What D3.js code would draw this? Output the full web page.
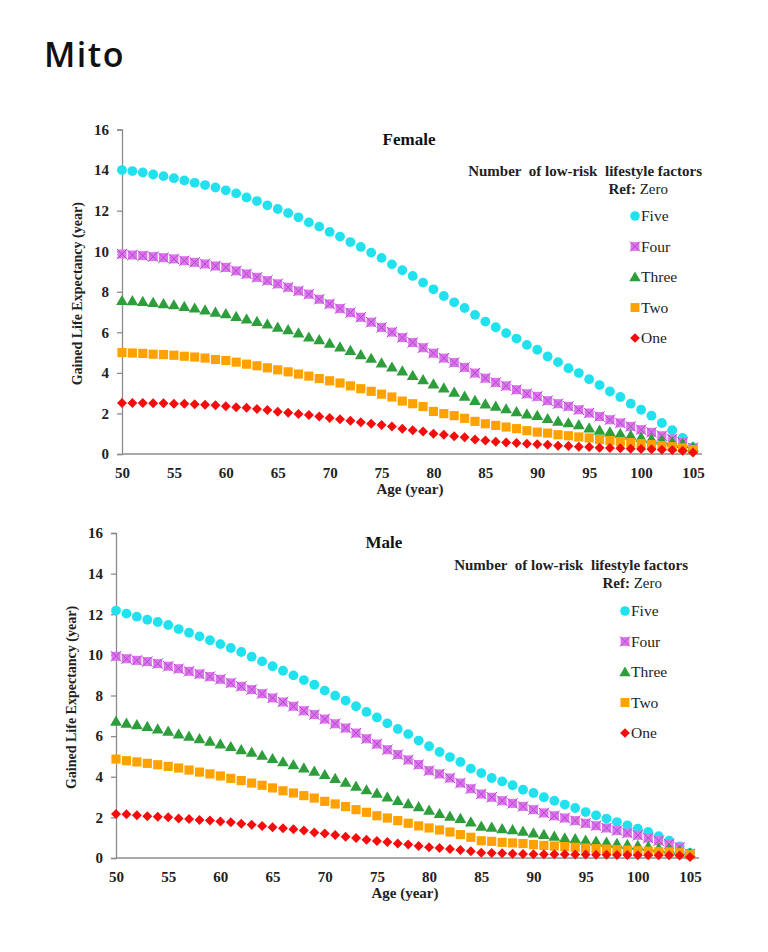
<!DOCTYPE html>
<html><head><meta charset="utf-8">
<script src="https://cdn.jsdelivr.net/npm/d3@7"></script>
<style>
html,body{margin:0;padding:0;background:#fff;}
svg{display:block;}
</style></head>
<body>
<script>
const ages = [50,51,52,53,54,55,56,57,58,59,60,61,62,63,64,65,66,67,68,69,70,71,72,73,74,75,76,77,78,79,80,81,82,83,84,85,86,87,88,89,90,91,92,93,94,95,96,97,98,99,100,101,102,103,104,105];
const xTicks = [50,55,60,65,70,75,80,85,90,95,100,105];
const yTicks = [0,2,4,6,8,10,12,14,16];
const seriesNames = ["Five","Four","Three","Two","One"];

const femaleFive = [14.0,13.95,13.88,13.78,13.7,13.6,13.49,13.37,13.26,13.14,13.0,12.85,12.65,12.47,12.26,12.08,11.88,11.67,11.42,11.21,10.95,10.72,10.45,10.21,9.93,9.67,9.35,9.06,8.78,8.45,8.12,7.79,7.48,7.2,6.86,6.53,6.25,5.96,5.69,5.38,5.14,4.81,4.53,4.23,3.99,3.69,3.4,3.08,2.81,2.48,2.18,1.89,1.53,1.17,0.79,0.34];
const femaleFour = [9.86,9.81,9.78,9.73,9.68,9.62,9.53,9.45,9.37,9.27,9.2,9.03,8.88,8.71,8.55,8.39,8.22,8.04,7.88,7.63,7.4,7.17,6.97,6.74,6.5,6.24,6.01,5.74,5.5,5.24,4.97,4.73,4.51,4.27,3.99,3.74,3.53,3.36,3.17,2.97,2.84,2.63,2.48,2.35,2.18,2.02,1.85,1.69,1.53,1.36,1.2,1.07,0.9,0.74,0.57,0.3];
const femaleThree = [7.56,7.55,7.52,7.47,7.4,7.35,7.27,7.19,7.1,6.99,6.91,6.78,6.65,6.53,6.4,6.25,6.12,5.96,5.76,5.63,5.46,5.27,5.1,4.89,4.71,4.48,4.28,4.09,3.87,3.66,3.45,3.25,3.04,2.84,2.63,2.46,2.35,2.22,2.08,1.97,1.89,1.74,1.61,1.53,1.44,1.28,1.17,1.08,1.0,0.92,0.82,0.75,0.67,0.59,0.51,0.34];
const femaleTwo = [5.0,4.98,4.96,4.92,4.9,4.87,4.82,4.78,4.73,4.66,4.61,4.53,4.43,4.35,4.25,4.15,4.05,3.94,3.84,3.72,3.61,3.5,3.36,3.22,3.09,2.95,2.81,2.61,2.48,2.34,2.1,1.99,1.89,1.76,1.61,1.49,1.41,1.33,1.25,1.15,1.08,1.03,0.95,0.9,0.84,0.79,0.71,0.66,0.61,0.56,0.51,0.46,0.41,0.36,0.3,0.21];
const femaleOne = [2.51,2.51,2.51,2.5,2.5,2.48,2.48,2.45,2.43,2.4,2.35,2.31,2.28,2.22,2.17,2.08,2.03,1.97,1.92,1.85,1.77,1.71,1.64,1.56,1.49,1.43,1.36,1.25,1.17,1.11,1.0,0.95,0.87,0.82,0.71,0.66,0.61,0.57,0.54,0.51,0.48,0.46,0.41,0.39,0.36,0.34,0.31,0.3,0.28,0.26,0.25,0.23,0.21,0.2,0.16,0.08];

const maleFive = [12.18,12.03,11.88,11.73,11.62,11.47,11.27,11.09,10.91,10.72,10.53,10.34,10.14,9.91,9.68,9.44,9.22,8.99,8.76,8.53,8.24,7.99,7.75,7.47,7.19,6.92,6.63,6.35,6.1,5.78,5.5,5.22,4.97,4.73,4.4,4.18,3.94,3.77,3.58,3.36,3.2,2.99,2.82,2.63,2.46,2.26,2.1,1.94,1.77,1.61,1.44,1.28,1.07,0.85,0.57,0.25];
const maleFour = [9.93,9.81,9.73,9.67,9.57,9.44,9.32,9.19,9.06,8.93,8.8,8.62,8.45,8.29,8.09,7.88,7.68,7.47,7.25,7.06,6.84,6.61,6.4,6.15,5.87,5.61,5.33,5.09,4.83,4.6,4.3,4.14,3.94,3.69,3.41,3.15,2.99,2.82,2.69,2.54,2.38,2.22,2.08,1.97,1.84,1.71,1.59,1.48,1.35,1.23,1.12,0.98,0.85,0.69,0.53,0.2];
const maleThree = [6.73,6.63,6.56,6.47,6.35,6.24,6.1,5.99,5.87,5.74,5.61,5.48,5.33,5.2,5.05,4.89,4.73,4.59,4.43,4.27,4.1,3.91,3.72,3.53,3.35,3.18,3.0,2.82,2.67,2.52,2.35,2.18,2.05,1.94,1.77,1.56,1.51,1.44,1.39,1.31,1.23,1.15,1.07,0.98,0.94,0.87,0.82,0.77,0.71,0.66,0.61,0.56,0.49,0.44,0.36,0.25];
const maleTwo = [4.87,4.79,4.73,4.66,4.59,4.51,4.43,4.33,4.23,4.14,4.04,3.92,3.81,3.69,3.58,3.45,3.31,3.2,3.07,2.95,2.79,2.66,2.53,2.38,2.25,2.08,1.97,1.84,1.71,1.58,1.48,1.38,1.28,1.15,1.02,0.85,0.82,0.77,0.74,0.71,0.66,0.62,0.59,0.56,0.53,0.49,0.46,0.44,0.41,0.39,0.36,0.34,0.31,0.3,0.26,0.16];
const maleOne = [2.17,2.15,2.1,2.05,2.03,2.0,1.95,1.92,1.87,1.84,1.8,1.76,1.69,1.64,1.58,1.51,1.46,1.41,1.35,1.26,1.2,1.13,1.05,0.98,0.9,0.84,0.79,0.71,0.66,0.59,0.53,0.49,0.44,0.39,0.33,0.26,0.25,0.23,0.21,0.2,0.19,0.19,0.18,0.18,0.17,0.17,0.16,0.16,0.15,0.15,0.14,0.14,0.13,0.13,0.12,0.05];

const W = 768, H = 952;
const serif = "'Liberation Serif','Times New Roman',serif";
const svg = d3.select("body").append("svg").attr("width", W).attr("height", H);
svg.append("rect").attr("width", W).attr("height", H).attr("fill", "#fff");

svg.append("text").attr("x", 44).attr("y", 67)
  .attr("font-family", "'Open Sans', sans-serif").attr("font-size", 34).attr("font-weight", 600)
  .attr("letter-spacing", 1.5).attr("fill", "#111").text("Mito");

const styles = {
  Five: {fill: "#22e1ef"},
  Four: {fill: "#dd74ec", stroke: "#b04ad0"},
  Three: {fill: "#2e9e3c"},
  Two: {fill: "#ffa200"},
  One: {fill: "#f50d0d"}
};

function marker(g, name, scale) {
  const s = scale || 1;
  if (name === "Five") {
    g.append("path").attr("d", d3.symbol(d3.symbolCircle, 76 * s)()).attr("fill", styles.Five.fill);
  } else if (name === "Four") {
    g.append("path").attr("d", d3.symbol(d3.symbolSquare, 82 * s)()).attr("fill", styles.Four.fill);
    g.append("path").attr("d", d3.symbol(d3.symbolX, 72 * s)()).attr("fill", "none")
      .attr("stroke", styles.Four.stroke).attr("stroke-width", 1);
  } else if (name === "Three") {
    g.append("path").attr("d", d3.symbol(d3.symbolTriangle, 60 * s)()).attr("fill", styles.Three.fill)
      .attr("transform", "translate(0,1)");
  } else if (name === "Two") {
    g.append("path").attr("d", d3.symbol(d3.symbolSquare, 84 * s)()).attr("fill", styles.Two.fill);
  } else {
    g.append("path").attr("d", d3.symbol(d3.symbolSquare, 50 * s)()).attr("fill", styles.One.fill)
      .attr("transform", "rotate(45)");
  }
}

function panel(cfg) {
  const x = d3.scaleLinear().domain([50, 105]).range([cfg.x0, cfg.x1]);
  const y = d3.scaleLinear().domain([0, 16]).range([cfg.y0, cfg.y1]);
  const g = svg.append("g");

  const ya = g.append("g").attr("transform", `translate(${cfg.x0},0)`)
    .call(d3.axisLeft(y).tickValues(yTicks).tickSize(5).tickPadding(8).tickFormat(d3.format("d")));
  ya.select(".domain").attr("stroke", "#8c8c8c").attr("stroke-width", 1.3);
  ya.selectAll(".tick line").attr("stroke", "#8c8c8c").attr("stroke-width", 1.3);
  ya.selectAll("text").attr("font-family", serif).attr("font-weight", "bold").attr("font-size", 15).attr("fill", "#222");

  const xa = g.append("g").attr("transform", `translate(0,${cfg.y0})`)
    .call(d3.axisBottom(x).tickValues(xTicks).tickSize(0).tickPadding(13).tickFormat(d3.format("d")));
  xa.select(".domain").remove();
  xa.selectAll("text").attr("font-family", serif).attr("font-weight", "bold").attr("font-size", 15).attr("fill", "#222");
  g.append("line").attr("x1", cfg.x0).attr("x2", x(105) + 9).attr("y1", cfg.y0).attr("y2", cfg.y0)
    .attr("stroke", "#8c8c8c").attr("stroke-width", 1.3);

  g.append("text").attr("transform", `translate(${cfg.ylabX},${(cfg.y0 + cfg.y1) / 2 + 2}) rotate(-90)`)
    .attr("text-anchor", "middle").attr("font-family", serif).attr("font-weight", "bold").attr("font-size", 14)
    .attr("fill", "#222").text("Gained Life Expectancy (year)");
  g.append("text").attr("x", cfg.xlabX).attr("y", cfg.y0 + 40)
    .attr("text-anchor", "middle").attr("font-family", serif).attr("font-weight", "bold").attr("font-size", 15)
    .attr("fill", "#222").text("Age (year)");

  g.append("text").attr("x", cfg.titleX).attr("y", cfg.titleY)
    .attr("text-anchor", "middle").attr("font-family", serif).attr("font-weight", "bold").attr("font-size", 17)
    .attr("fill", "#111").text(cfg.title);

  cfg.series.forEach((vals, i) => {
    const name = seriesNames[i];
    const sg = g.append("g");
    vals.forEach((v, j) => {
      const m = sg.append("g").attr("transform", `translate(${x(ages[j])},${y(v)})`);
      marker(m, name);
    });
  });

  const lg = g.append("g");
  lg.append("text").attr("x", cfg.legRight).attr("y", cfg.legY).attr("text-anchor", "end")
    .attr("font-family", serif).attr("font-weight", "bold").attr("font-size", 15).attr("fill", "#222")
    .attr("xml:space", "preserve").text("Number  of low-risk  lifestyle factors");
  const ref = lg.append("text").attr("x", cfg.refRight).attr("y", cfg.legY + 18).attr("text-anchor", "end")
    .attr("font-family", serif).attr("font-size", 15).attr("fill", "#222");
  ref.append("tspan").attr("font-weight", "bold").text("Ref: ");
  ref.append("tspan").text("Zero");
  seriesNames.forEach((name, i) => {
    const yy = cfg.itemY + i * 30.5;
    const m = lg.append("g").attr("transform", `translate(${cfg.itemX},${yy})`);
    marker(m, name, 0.95);
    lg.append("text").attr("x", cfg.itemX + 6).attr("y", yy + 5).attr("font-family", serif)
      .attr("font-size", 15.5).attr("fill", "#222").text(name);
  });
}

panel({
  x0: 122, x1: 693, y0: 454, y1: 129.5,
  ylabX: 82, xlabX: 410, title: "Female", titleX: 409, titleY: 145,
  legRight: 702, refRight: 668, legY: 176, itemX: 635, itemY: 216,
  series: [femaleFive, femaleFour, femaleThree, femaleTwo, femaleOne]
});
panel({
  x0: 116, x1: 690, y0: 858, y1: 533,
  ylabX: 76, xlabX: 405, title: "Male", titleX: 384, titleY: 548,
  legRight: 688, refRight: 662, legY: 570, itemX: 625, itemY: 611,
  series: [maleFive, maleFour, maleThree, maleTwo, maleOne]
});
</script>
</body></html>
